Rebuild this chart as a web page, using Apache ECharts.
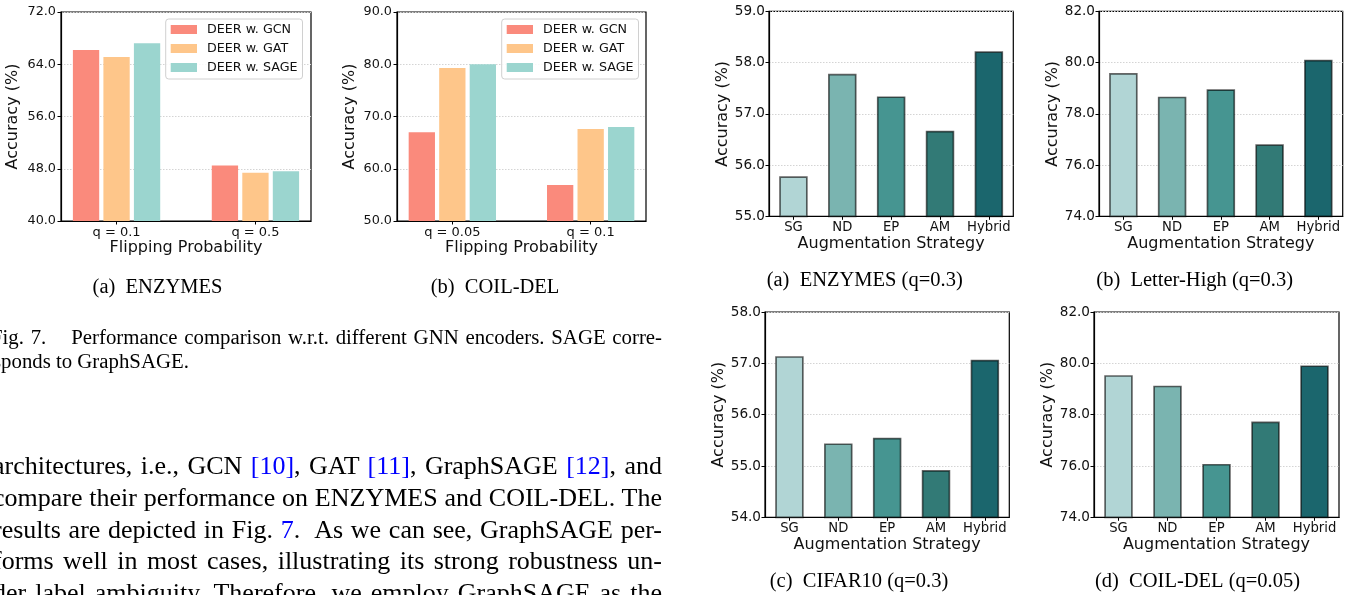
<!DOCTYPE html>
<html><head><meta charset="utf-8">
<script src="https://cdn.jsdelivr.net/npm/echarts@6/dist/echarts.min.js"></script>
<style>
html,body{margin:0;padding:0;background:#fff;overflow:hidden;width:1362px;height:595px}
#chart{position:absolute;left:0;top:0;width:1362px;height:595px}
.ln{position:absolute;white-space:pre;font-family:"Liberation Serif","Times New Roman",serif;color:#000;line-height:1}
.cite{color:#0000ff}
</style></head><body>
<div id="chart"></div>
<div id="text"></div>
<script>
// ---------------- data ----------------
const gnnNames = ['DEER w. GCN', 'DEER w. GAT', 'DEER w. SAGE'];
const enzymesQ = ['q = 0.1', 'q = 0.5'];
const enzymesGCN = [66.2, 48.5];
const enzymesGAT = [65.1, 47.4];
const enzymesSAGE = [67.2, 47.6];
const enzymesTicks = [40, 48, 56, 64, 72];
const coilQ = ['q = 0.05', 'q = 0.1'];
const coilGCN = [67.0, 56.9];
const coilGAT = [79.3, 67.6];
const coilSAGE = [80.0, 68.0];
const coilTicks = [50, 60, 70, 80, 90];
const strategies = ['SG', 'ND', 'EP', 'AM', 'Hybrid'];
const enzymesAug = [55.78, 57.78, 57.34, 56.67, 58.22];
const enzymesAugTicks = [55, 56, 57, 58, 59];
const letterAug = [79.59, 78.67, 78.96, 76.81, 80.11];
const letterAugTicks = [74, 76, 78, 80, 82];
const cifarAug = [57.14, 55.44, 55.55, 54.92, 57.07];
const cifarAugTicks = [54, 55, 56, 57, 58];
const coilAug = [79.54, 79.13, 76.08, 77.73, 79.92];
const coilAugTicks = [74, 76, 78, 80, 82];
const subCaptions = ['(a)\u2002ENZYMES', '(b)\u2002COIL-DEL', '(a)\u2002ENZYMES (q=0.3)', '(b)\u2002Letter-High (q=0.3)', '(c)\u2002CIFAR10 (q=0.3)', '(d)\u2002COIL-DEL (q=0.05)'];
const yName = 'Accuracy (%)';
const xNameGnn = 'Flipping Probability';
const xNameAug = 'Augmentation Strategy';

// ---------------- styles / layout ----------------
const gnnColors = ['#fa8a7c', '#fec68a', '#9bd5cf'];
const augColors = ['#b1d5d5', '#7ab4b0', '#469591', '#327a76', '#1b666d'];
const SANS = '"DejaVu Sans", sans-serif';
const grids = [
  {left: 61, top: 12, width: 250, height: 209},
  {left: 397, top: 12, width: 249, height: 209},
  {left: 769, top: 11.3, width: 244.3, height: 205},
  {left: 1099, top: 11.3, width: 243.7, height: 205},
  {left: 765, top: 312, width: 244.3, height: 205.3},
  {left: 1094, top: 312, width: 245, height: 205.3}
].map(g => Object.assign({show: true, borderColor: '#000', borderWidth: 1.2, backgroundColor: 'transparent', containLabel: false}, g));

const capPos = [[157.5, 287.3], [495, 287.3], [864.7, 281], [1194.7, 281], [859, 581.7], [1197.5, 581.7]];
const yNameGap = [40, 39, 37, 37, 37, 36];

function yAxisOf(i, ticks, tickFont, margin) {
  return {
    type: 'value', gridIndex: i,
    min: ticks[0], max: ticks[ticks.length - 1], interval: ticks[1] - ticks[0],
    name: yName, nameLocation: 'middle', nameRotate: 90, nameGap: yNameGap[i],
    nameTextStyle: {fontFamily: SANS, fontSize: 16, color: '#111'},
    axisLine: {show: true, onZero: false, lineStyle: {color: '#000', width: 1.2}},
    axisTick: {show: true, length: 3.5, inside: false, lineStyle: {color: '#000', width: 1}},
    axisLabel: {fontFamily: SANS, fontSize: tickFont, color: '#111', margin: margin, formatter: v => v.toFixed(1)},
    splitLine: {show: true, lineStyle: {type: [1.5, 1.5], color: '#d4d4d4', width: 1}}
  };
}
function xAxisGnn(i, labels) {
  const vals = labels.map((_, k) => k);
  return {
    type: 'value', gridIndex: i, min: -0.4, max: 1.4,
    name: xNameGnn, nameLocation: 'middle', nameGap: 19,
    nameTextStyle: {fontFamily: SANS, fontSize: 16, color: '#111'},
    axisLine: {show: true, onZero: false, lineStyle: {color: '#000', width: 1.2}},
    axisTick: {show: true, length: 3.5, customValues: vals, lineStyle: {color: '#000'}},
    axisLabel: {fontFamily: SANS, fontSize: 13, color: '#111', margin: 5, customValues: vals,
      formatter: v => labels[Math.round(v)]},
    splitLine: {show: false}
  };
}
function xAxisAug(i) {
  return {
    type: 'category', gridIndex: i, data: strategies,
    name: xNameAug, nameLocation: 'middle', nameGap: 20,
    nameTextStyle: {fontFamily: SANS, fontSize: 16, color: '#111'},
    axisLine: {show: true, onZero: false, lineStyle: {color: '#000', width: 1.2}},
    axisTick: {show: true, length: 3.5, alignWithLabel: true, lineStyle: {color: '#000'}},
    axisLabel: {fontFamily: SANS, fontSize: 13.2, color: '#111', margin: 5, interval: 0},
    splitLine: {show: false}
  };
}
function gnnSeries(i, arrs) {
  return arrs.map((arr, k) => ({
    type: 'bar', name: gnnNames[k], xAxisIndex: i, yAxisIndex: i,
    data: arr.map((v, j) => [j, v]),
    barWidth: 26.3, barGap: '16%',
    itemStyle: {color: gnnColors[k]}, emphasis: {disabled: true}
  }));
}
function augSeries(i, arr) {
  return {
    type: 'bar', name: 'aug' + i, xAxisIndex: i, yAxisIndex: i,
    data: arr.map((v, j) => ({value: v, itemStyle: {color: augColors[j]}})),
    barWidth: 28.5,
    itemStyle: {borderColor: 'rgba(0,0,0,0.6)', borderWidth: 1.7},
    emphasis: {disabled: true}
  };
}
function legendAt(left) {
  return {
    data: gnnNames, left: left, top: 19, orient: 'vertical', icon: 'rect',
    itemWidth: 26.3, itemHeight: 9, itemGap: 4, padding: [3, 5, 4, 5],
    borderColor: '#d0d0d0', borderWidth: 1, borderRadius: 3, backgroundColor: 'rgba(255,255,255,0.85)',
    selectedMode: false,
    textStyle: {fontFamily: SANS, fontSize: 12.7, color: '#111', lineHeight: 15, padding: [0, 0, 0, 5]}
  };
}

const option = {
  animation: false,
  backgroundColor: '#fff',
  grid: grids,
  legend: [legendAt(165.7), legendAt(501.7)],
  xAxis: [xAxisGnn(0, enzymesQ), xAxisGnn(1, coilQ), xAxisAug(2), xAxisAug(3), xAxisAug(4), xAxisAug(5)],
  yAxis: [
    yAxisOf(0, enzymesTicks, 12.8, 5), yAxisOf(1, coilTicks, 12.8, 5),
    yAxisOf(2, enzymesAugTicks, 13.6, 4), yAxisOf(3, letterAugTicks, 13.6, 4),
    yAxisOf(4, cifarAugTicks, 13.6, 4), yAxisOf(5, coilAugTicks, 13.6, 4)
  ],
  series: [].concat(
    gnnSeries(0, [enzymesGCN, enzymesGAT, enzymesSAGE]),
    gnnSeries(1, [coilGCN, coilGAT, coilSAGE]),
    [augSeries(2, enzymesAug), augSeries(3, letterAug), augSeries(4, cifarAug), augSeries(5, coilAug)]
  ),
  graphic: subCaptions.map((t, i) => ({
    type: 'text', x: capPos[i][0], y: capPos[i][1], silent: true,
    style: {text: t, fontFamily: '"Liberation Serif", "Times New Roman", serif', fontSize: 20.5, fill: '#000', align: 'center', verticalAlign: 'middle'}
  }))
};
const chart = echarts.init(document.getElementById('chart'), null, {renderer: 'canvas'});
chart.setOption(option);

// ---------------- surrounding paper text ----------------
const captionLines = [
  {segs: [['Fig. 7.'], ['SPACER'], ['Performance comparison w.r.t. different GNN encoders. SAGE corre-']], justify: true, left: -9},
  {segs: [['sponds to GraphSAGE.']], justify: false, left: -7}
];
const bodyLines = [
  {segs: [['architectures, i.e., GCN '], ['[10]', 1], [', GAT '], ['[11]', 1], [', GraphSAGE '], ['[12]', 1], [', and']], justify: true, left: -7},
  {segs: [['compare their performance on ENZYMES and COIL-DEL. The']], justify: true, left: -7},
  {segs: [['results are depicted in Fig. '], ['7', 1], ['.  As we can see, GraphSAGE per-']], justify: true, left: -7},
  {segs: [['forms well in most cases, illustrating its strong robustness un-']], justify: true, left: -7},
  {segs: [['der label ambiguity. Therefore, we employ GraphSAGE as the']], justify: true, left: -7}
];
const textBox = document.getElementById('text');
function makeLine(line, centerY, fontSize, right) {
  const d = document.createElement('div');
  d.className = 'ln';
  d.style.left = line.left + 'px';
  d.style.top = (centerY - fontSize * 0.56) + 'px';
  d.style.fontSize = fontSize + 'px';
  line.segs.forEach(s => {
    const sp = document.createElement('span');
    if (s[0] === 'SPACER') { sp.style.display = 'inline-block'; sp.style.width = (fontSize * 1.2) + 'px'; }
    else { sp.textContent = s[0]; if (s[1]) sp.className = 'cite'; }
    d.appendChild(sp);
  });
  textBox.appendChild(d);
  if (line.justify) {
    const w = d.getBoundingClientRect().width;
    const n = (d.textContent.match(/ /g) || []).length;
    if (n) d.style.wordSpacing = ((right - line.left - w) / n) + 'px';
  }
}
const capCenters = [339.0, 362.2];
captionLines.forEach((l, i) => makeLine(l, capCenters[i], 20.8, 662));
const bodyCenters = [468.0, 499.6, 531.2, 562.8, 594.4];
bodyLines.forEach((l, i) => makeLine(l, bodyCenters[i], 26, 662));
</script>
</body></html>
